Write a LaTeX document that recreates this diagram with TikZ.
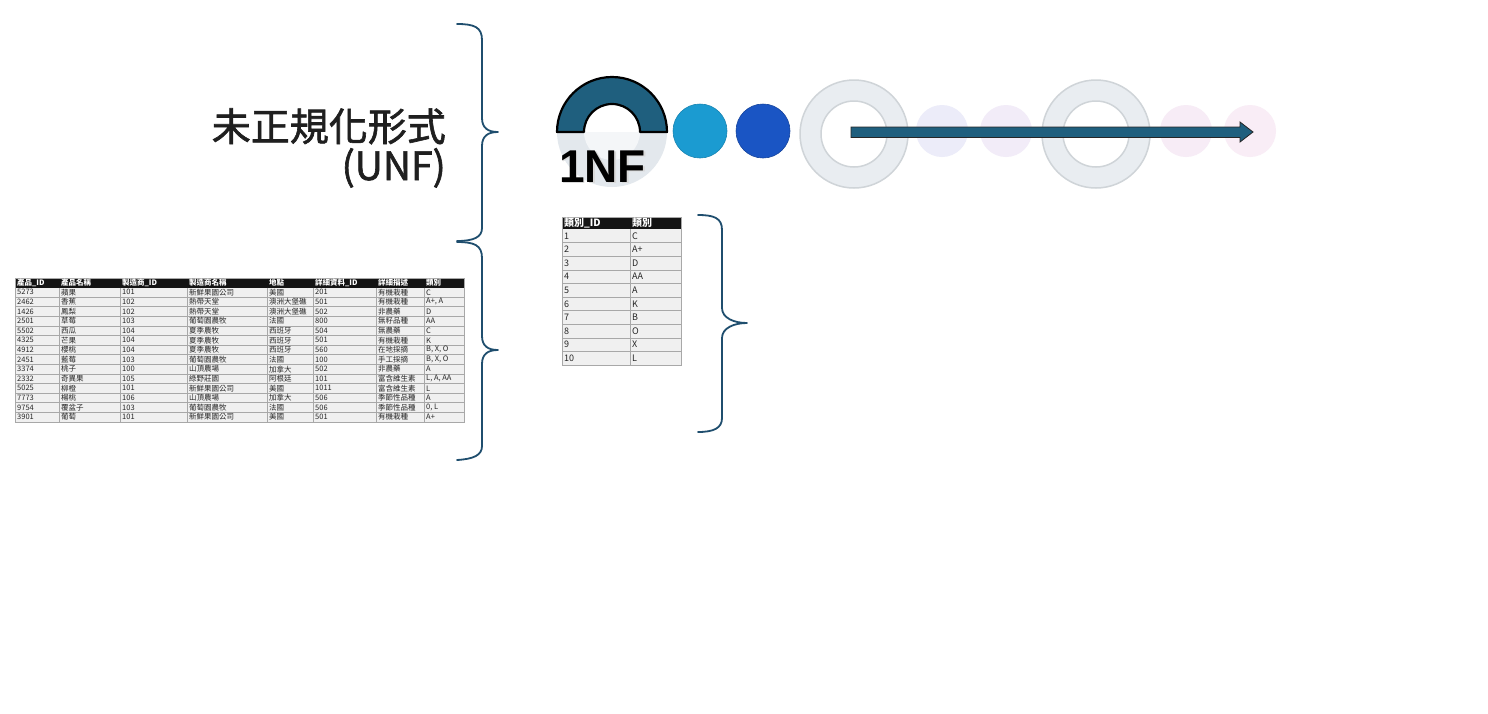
\documentclass[tikz,border=0pt]{standalone}
\usepackage{fontspec}
\setmainfont{Noto Sans CJK TC}
\newfontfamily\cjk{Noto Sans CJK TC}
\newfontface\cjktitle{Noto Sans CJK TC}[FakeBold=1.6]
\newfontfamily\lsans{Liberation Sans}
\definecolor{tealdark}{HTML}{1F5F7E}
\definecolor{braceblue}{HTML}{1F4E6E}
\definecolor{skyblue}{HTML}{1B9BD1}
\definecolor{royalb}{HTML}{1A55C4}
\definecolor{ringfill}{HTML}{E9EDF1}
\definecolor{ringline}{HTML}{CFD4D8}
\definecolor{halfgray}{HTML}{E3E8ED}
\definecolor{fadeA}{HTML}{ECECF9}
\definecolor{fadeB}{HTML}{F2ECF8}
\definecolor{fadeC}{HTML}{F7ECF6}
\definecolor{fadeD}{HTML}{F9EDF6}
\definecolor{cellgray}{HTML}{F0F0F0}
\definecolor{gridgray}{HTML}{A8A8A8}
\newcommand\Lrow[9]{%
  \pgfmathsetmacro\ry{287.5+(#1-0.5)*9.6}%
  \node[tcell] (L#1a) at (17,\ry) {#2};
  \node[tcell] (L#1b) at (61,\ry) {#3};
  \node[tcell] (L#1c) at (122,\ry) {#4};
  \node[tcell] (L#1d) at (189,\ry) {#5};
  \node[tcell] (L#1e) at (269,\ry) {#6};
  \node[tcell] (L#1f) at (315,\ry) {#7};
  \node[tcell] (L#1g) at (378,\ry) {#8};
  \node[tcell] (L#1h) at (426,\ry) {#9};
}
\newcommand\Rrow[3]{%
  \pgfmathsetmacro\ry{229+(#1-0.5)*13.6}%
  \node[rcell] (R#1a) at (564,\ry) {#2};
  \node[rcell] (R#1b) at (632,\ry) {#3};
}
\begin{document}
\begin{tikzpicture}[x=1pt,y=-1pt,
  brace/.style={draw=braceblue,line width=1.8pt,line cap=round,line join=round},
  tcell/.style={anchor=west,inner sep=0pt,font=\cjk\fontsize{7.5}{8}\selectfont,text=black!85},
  thead/.style={anchor=west,inner sep=0pt,font=\cjk\bfseries\fontsize{7.5}{8}\selectfont,text=white},
  rcell/.style={anchor=west,inner sep=0pt,font=\cjk\fontsize{9}{10}\selectfont,text=black!85},
  rhead/.style={anchor=west,inner sep=0pt,font=\cjk\bfseries\fontsize{10}{11}\selectfont,text=white},
  gridline/.style={draw=gridgray,line width=0.5pt},
  ring/.style={fill=ringfill,draw=ringline,line width=1.5pt,even odd rule},
  dot/.style={line width=0.6pt}]
\useasboundingbox[fill=white] (0,0) rectangle (1488,713);

% ---------- title ----------
\node[anchor=base east,inner sep=0pt,font=\cjktitle\fontsize{39}{44}\selectfont,text=black!88] (title1) at (446,141) {未正規化形式};
\node[anchor=base east,inner sep=0pt,font=\cjktitle\fontsize{39}{44}\selectfont,text=black!88] (title2) at (446,180) {(UNF)};

% ---------- braces ----------
\draw[brace] (457,24) .. controls (474,24) and (482,27) .. (482,40) -- (482,118) .. controls (482,128) and (488,132) .. (498,132) .. controls (488,132) and (482,136) .. (482,146) -- (482,228) .. controls (482,237) and (474,241) .. (457,241);
\draw[brace] (457,242) .. controls (474,242) and (482,245) .. (482,258) -- (482,336) .. controls (482,346) and (488,350) .. (498,350) .. controls (488,350) and (482,354) .. (482,364) -- (482,446) .. controls (482,455) and (474,459) .. (457,460);
\draw[brace] (698,215) .. controls (714,215) and (722,218) .. (722,230) -- (722,308) .. controls (722,318) and (734,323) .. (747,323) .. controls (734,323) and (722,328) .. (722,338) -- (722,418) .. controls (722,428) and (714,432) .. (698,432);

% ---------- progress row ----------
\fill[halfgray] (557,132) arc[start angle=180,end angle=360,radius=55pt] -- cycle;
\fill[white!60!halfgray] (584,132) arc[start angle=180,end angle=360,radius=28pt] -- cycle;
\draw[fill=tealdark,draw=black,line width=2.2pt,line join=round] (557,132) arc[start angle=180,end angle=0,radius=55pt] -- (640,132) arc[start angle=0,end angle=180,radius=28pt] -- cycle;
\node[anchor=base west,inner sep=0pt,font=\lsans\bfseries\fontsize{46}{50}\selectfont,text=black!15] (nfshadow) at (560.5,183.5) {1NF};
\node[anchor=base west,inner sep=0pt,font=\lsans\bfseries\fontsize{46}{50}\selectfont,text=black] (nf) at (559,182) {1NF};

\fill[skyblue,draw=skyblue!85!black,dot] (700,131) circle[radius=27pt];
\fill[royalb,draw=royalb!80!black,dot] (763,131) circle[radius=27pt];

\path[ring] (854,134) circle[radius=54pt] (854,134) circle[radius=33pt];
\fill[fadeA] (942,131) circle[radius=26pt];
\fill[fadeB] (1006,131) circle[radius=26pt];
\path[ring] (1096,134) circle[radius=54pt] (1096,134) circle[radius=33pt];
\fill[fadeC] (1186,131) circle[radius=26pt];
\fill[fadeD] (1250,131) circle[radius=26pt];

% arrow
\draw[fill=tealdark,draw=black!85,line width=0.8pt,line join=miter] (851,127) -- (1240,127) -- (1240,122) -- (1253,132) -- (1240,142) -- (1240,137.5) -- (851,137.5) -- cycle;

% ---------- left table ----------
\fill[cellgray] (15,278) rectangle (464,422);
\fill[black!92] (15,278) rectangle (464,287.5);
\foreach \k in {1,...,13} \draw[gridline] (15,{287.5+\k*9.6}) -- (464,{287.5+\k*9.6});
\foreach \xx in {59,120,187,267,313,376,424} \draw[gridline] (\xx,287.5) -- (\xx,422);
\draw[gridline] (15,278) rectangle (464,422);
\node[thead] (LHa) at (17,283) {產品\_ID};
\node[thead] (LHb) at (61,283) {產品名稱};
\node[thead] (LHc) at (122,283) {製造商\_ID};
\node[thead] (LHd) at (189,283) {製造商名稱};
\node[thead] (LHe) at (269,283) {地點};
\node[thead] (LHf) at (315,283) {詳細資料\_ID};
\node[thead] (LHg) at (378,283) {詳細描述};
\node[thead] (LHh) at (426,283) {類別};
\Lrow{1}{5273}{蘋果}{101}{新鮮果園公司}{美國}{201}{有機栽種}{C}
\Lrow{2}{2462}{香蕉}{102}{熱帶天堂}{澳洲大堡礁}{501}{有機栽種}{A+, A}
\Lrow{3}{1426}{鳳梨}{102}{熱帶天堂}{澳洲大堡礁}{502}{非農藥}{D}
\Lrow{4}{2501}{草莓}{103}{葡萄園農牧}{法國}{800}{無籽品種}{AA}
\Lrow{5}{5502}{西瓜}{104}{夏季農牧}{西班牙}{504}{無農藥}{C}
\Lrow{6}{4325}{芒果}{104}{夏季農牧}{西班牙}{501}{有機栽種}{K}
\Lrow{7}{4912}{櫻桃}{104}{夏季農牧}{西班牙}{560}{在地採摘}{B, X, O}
\Lrow{8}{2451}{藍莓}{103}{葡萄園農牧}{法國}{100}{手工採摘}{B, X, O}
\Lrow{9}{3374}{桃子}{100}{山頂農場}{加拿大}{502}{非農藥}{A}
\Lrow{10}{2332}{奇異果}{105}{綠野莊園}{阿根廷}{101}{富含維生素}{L, A, AA}
\Lrow{11}{5025}{柳橙}{101}{新鮮果園公司}{美國}{1011}{富含維生素}{L}
\Lrow{12}{7773}{楊桃}{106}{山頂農場}{加拿大}{506}{季節性品種}{A}
\Lrow{13}{9754}{覆盆子}{103}{葡萄園農牧}{法國}{506}{季節性品種}{0, L}
\Lrow{14}{3901}{葡萄}{101}{新鮮果園公司}{美國}{501}{有機栽種}{A+}

% ---------- right table ----------
\fill[cellgray] (562,217) rectangle (681,365);
\fill[black!92] (562,217) rectangle (681,229);
\foreach \k in {1,...,9} \draw[gridline] (562,{229+\k*13.6}) -- (681,{229+\k*13.6});
\draw[gridline] (630,229) -- (630,365);
\draw[gridline] (562,217) rectangle (681,365);
\node[rhead] (RHa) at (564,223) {類別\_ID};
\node[rhead] (RHb) at (632,223) {類別};
\Rrow{1}{1}{C}
\Rrow{2}{2}{A+}
\Rrow{3}{3}{D}
\Rrow{4}{4}{AA}
\Rrow{5}{5}{A}
\Rrow{6}{6}{K}
\Rrow{7}{7}{B}
\Rrow{8}{8}{O}
\Rrow{9}{9}{X}
\Rrow{10}{10}{L}
\end{tikzpicture}
\end{document}
